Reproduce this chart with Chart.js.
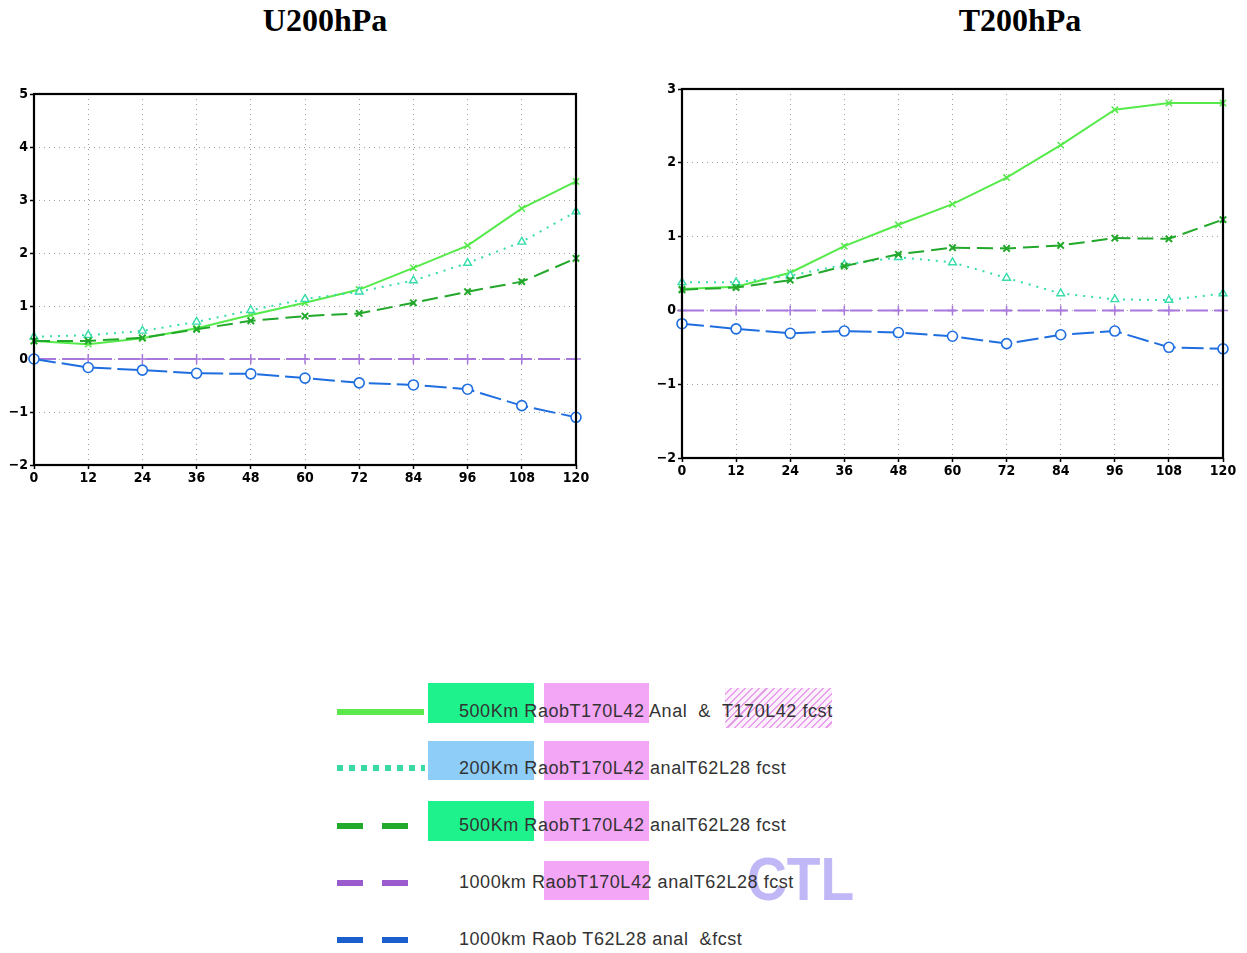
<!DOCTYPE html>
<html><head><meta charset="utf-8">
<script src="https://cdn.jsdelivr.net/npm/chart.js@4"></script>
<style>
body{margin:0;width:1247px;height:953px;background:#fff;position:relative;overflow:hidden;font-family:"Liberation Sans",Arial,sans-serif}
.title{position:absolute;top:2px;font:bold 32px "Liberation Serif","Times New Roman",serif;color:#000;transform:translateX(-50%);white-space:nowrap}
canvas{position:absolute}
.lg{position:absolute}
.txt{position:absolute;left:459px;font-size:18px;color:#333;white-space:nowrap;line-height:20px;letter-spacing:0.55px}
.ctl{position:absolute;left:747px;top:844px;font:bold 62px "Liberation Sans",Arial,sans-serif;color:rgba(150,135,240,0.6);transform:scaleX(0.89);transform-origin:left top;line-height:70px}
</style></head>
<body>
<div class="title" style="left:325px">U200hPa</div>
<div class="title" style="left:1020px">T200hPa</div>
<canvas id="cu" width="600" height="420" style="left:0;top:80px"></canvas>
<canvas id="ct" width="607" height="420" style="left:640px;top:75px"></canvas>

<!-- legend -->
<div class="lg" style="left:428px;top:683px;width:106px;height:40px;background:#1ef28c"></div>
<div class="lg" style="left:544px;top:683px;width:105px;height:40px;background:#f3a6f5"></div>
<div class="lg" style="left:725px;top:688px;width:107px;height:40px;background:repeating-linear-gradient(-45deg,#fcf0fc 0 3.5px,#e8a0ea 3.5px 5px)"></div>
<div class="lg" style="left:428px;top:741px;width:106px;height:39px;background:#8ecdf7"></div>
<div class="lg" style="left:544px;top:741px;width:105px;height:39px;background:#f3a6f5"></div>
<div class="lg" style="left:428px;top:801px;width:106px;height:40px;background:#1ef28c"></div>
<div class="lg" style="left:544px;top:801px;width:105px;height:40px;background:#f3a6f5"></div>
<div class="lg" style="left:544px;top:861px;width:105px;height:39px;background:#f3a6f5"></div>

<div class="lg" style="left:337px;top:709px;width:87px;height:6px;background:#5ae84c"></div>
<div class="lg" style="left:337px;top:765px;width:88px;height:6px;background:repeating-linear-gradient(90deg,#3ad8a4 0 6px,transparent 6px 12px)"></div>
<div class="lg" style="left:337px;top:823px;width:26px;height:6px;background:#22aa2c"></div>
<div class="lg" style="left:382px;top:823px;width:26px;height:6px;background:#22aa2c"></div>
<div class="lg" style="left:337px;top:880px;width:26px;height:6px;background:#9a5ccc"></div>
<div class="lg" style="left:382px;top:880px;width:26px;height:6px;background:#9a5ccc"></div>
<div class="lg" style="left:337px;top:937px;width:26px;height:6px;background:#1a5fcc"></div>
<div class="lg" style="left:382px;top:937px;width:26px;height:6px;background:#1a5fcc"></div>

<div class="ctl">CTL</div>
<div class="txt" style="top:701px">500Km RaobT170L42 Anal &nbsp;&amp; &nbsp;T170L42 fcst</div>
<div class="txt" style="top:758px">200Km RaobT170L42 analT62L28 fcst</div>
<div class="txt" style="top:815px">500Km RaobT170L42 analT62L28 fcst</div>
<div class="txt" style="top:872px">1000km RaobT170L42 analT62L28 fcst</div>
<div class="txt" style="top:929px">1000km Raob T62L28 anal &nbsp;&amp;fcst</div>

<script>
// ---- data ----
const hours = [0, 12, 24, 36, 48, 60, 72, 84, 96, 108, 120];
const seriesNames = ["500Km RaobT170L42 Anal & T170L42 fcst", "200Km RaobT170L42 analT62L28 fcst", "500Km RaobT170L42 analT62L28 fcst", "1000km RaobT170L42 analT62L28 fcst", "1000km Raob T62L28 anal &fcst"];
const titles = ["U200hPa", "T200hPa"];

const u_500anal = [0.34, 0.28, 0.39, 0.58, 0.83, 1.06, 1.31, 1.72, 2.14, 2.84, 3.35];
const u_200 = [0.42, 0.45, 0.53, 0.70, 0.92, 1.13, 1.27, 1.48, 1.81, 2.21, 2.78];
const u_500 = [0.34, 0.34, 0.40, 0.56, 0.72, 0.81, 0.86, 1.06, 1.27, 1.46, 1.90];
const u_1000 = [0, 0, 0, 0, 0, 0, 0, 0, 0, 0, 0];
const u_ctl = [0, -0.16, -0.21, -0.27, -0.28, -0.36, -0.45, -0.49, -0.57, -0.88, -1.10];

const t_500anal = [0.29, 0.32, 0.51, 0.87, 1.16, 1.44, 1.80, 2.24, 2.72, 2.81, 2.81];
const t_200 = [0.38, 0.38, 0.47, 0.62, 0.72, 0.65, 0.44, 0.23, 0.15, 0.14, 0.23];
const t_500 = [0.28, 0.31, 0.41, 0.60, 0.76, 0.85, 0.84, 0.88, 0.98, 0.97, 1.23];
const t_1000 = [0, 0, 0, 0, 0, 0, 0, 0, 0, 0, 0];
const t_ctl = [-0.18, -0.25, -0.31, -0.28, -0.30, -0.35, -0.45, -0.33, -0.28, -0.50, -0.52];

const uRange = [-2, 5];
const tRange = [-2, 3];

// ---- styles ----
const styles = [
  {color:'#55ea4a', dash:[], point:'crossRot', r:4.5, bw:1.5, fill:'#55ea4a'},
  {color:'#36dcaa', dash:[2,6], point:'triangle', r:4.5, bw:1.4, fill:'#ffffff'},
  {color:'#22a82a', dash:[16,7], point:'crossRot', r:4.5, bw:2, fill:'#22a82a'},
  {color:'#a878dc', dash:[22,6], point:'cross', r:5, bw:1.5, fill:'#a878dc'},
  {color:'#1f6ee0', dash:[22,6], point:'circle', r:5, bw:1.6, fill:'#ffffff'}
];

function mk(arrs){
  return arrs.map((a,i)=>({
    label: seriesNames[i],
    data: hours.map((h,j)=>({x:h, y:a[j]})),
    borderColor: styles[i].color,
    borderWidth: 2,
    borderDash: styles[i].dash,
    pointStyle: styles[i].point,
    pointRadius: styles[i].r,
    pointBorderWidth: styles[i].bw,
    pointBorderColor: styles[i].color,
    pointBackgroundColor: styles[i].fill,
    tension: 0,
    clip: false
  })).reverse();
}

const frame = {id:'frame', afterDraw(c){
  const a=c.chartArea, ctx=c.ctx;
  ctx.save(); ctx.strokeStyle='#000'; ctx.lineWidth=2.2;
  ctx.strokeRect(a.left, a.top, a.right-a.left, a.bottom-a.top);
  ctx.restore();
}};

const tickFont = {family:'"DejaVu Sans Condensed","DejaVu Sans",sans-serif', weight:'bold', size:14};
const fmt = v => (v<0? '\u2212'+Math.abs(v) : String(v));

function make(id, arrs, range, yW, xH){
  new Chart(document.getElementById(id), {
    type:'line',
    data:{datasets: mk(arrs)},
    plugins:[frame],
    options:{
      responsive:false, animation:false,
      layout:{padding:{top:14, right:24, bottom:15, left:0}},
      plugins:{legend:{display:false}, tooltip:{enabled:false}},
      scales:{
        x:{type:'linear', min:0, max:120,
           ticks:{stepSize:12, font:tickFont, color:'#000', padding:1, maxRotation:0, callback:v=>hours.includes(v)?String(v):''},
           grid:{color:'#a0a0a0', lineWidth:1, tickLength:4, tickColor:'#000', tickWidth:1.5},
           border:{display:false, dash:[1,4]},
           afterFit:s=>{s.height=xH;}},
        y:{type:'linear', min:range[0], max:range[1],
           ticks:{stepSize:1, font:tickFont, color:'#000', padding:2, callback:fmt},
           grid:{color:'#a0a0a0', lineWidth:1, tickLength:4, tickColor:'#000', tickWidth:1.5},
           border:{display:false, dash:[1,4]},
           afterFit:s=>{s.width=yW;}}
      }
    }
  });
}
make('cu', [u_500anal,u_200,u_500,u_1000,u_ctl], uRange, 34, 20);
make('ct', [t_500anal,t_200,t_500,t_1000,t_ctl], tRange, 42, 22);
</script>
</body></html>
